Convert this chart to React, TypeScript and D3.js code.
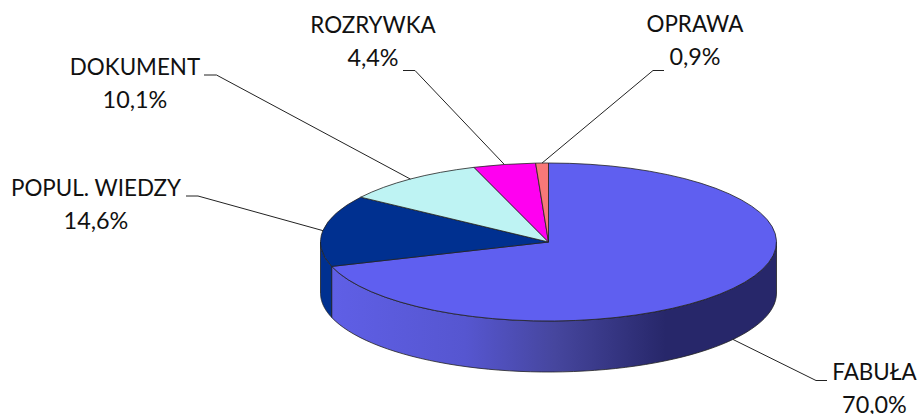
import React from 'react'
import * as d3 from 'd3'

const categories = ['FABUŁA', 'POPUL. WIEDZY', 'DOKUMENT', 'ROZRYWKA', 'OPRAWA']
const shares = [70.0, 14.6, 10.1, 4.4, 0.9]
const sliceColors = ['#5f5ff0', '#003090', '#bef3f3', '#ff00f0', '#f87878']
const percentLabels = ['70,0%', '14,6%', '10,1%', '4,4%', '0,9%']

// label placement: [text centre x, first baseline, elbow x, elbow y, stub end x]
const labelLayout = [
  [874.5, 380, 816, 380.5, 827],
  [96, 196, 198, 196, 186],
  [135, 75, 216.5, 75, 204],
  [373, 33, 415, 70.5, 403],
  [695, 32, 653, 70.5, 664],
]

const width = 918
const height = 414
const cx = 548.5
const cy = 242
const rx = 228
const ry = 79
const depth = 51

const rim = (a: number): [number, number] => [cx + rx * Math.sin(a), cy - ry * Math.cos(a)]

export default function App() {
  const pie = d3.pie<number>().sort(null).value((d) => d)
  const slices = pie(shares)
  const arc = d3.arc<d3.PieArcDatum<number>>().innerRadius(0).outerRadius(rx)
  const line = d3.line()

  // side wall only shows on the front half of the ellipse
  const wallPath = (s: d3.PieArcDatum<number>) => {
    const a0 = Math.max(s.startAngle, Math.PI / 2)
    const a1 = Math.min(s.endAngle, (3 * Math.PI) / 2)
    if (a1 <= a0) return null
    const top = d3.range(0, 61).map((i) => rim(a0 + ((a1 - a0) * i) / 60))
    const bottom = top.map(([x, y]) => [x, y + depth] as [number, number]).reverse()
    return line([...top, ...bottom]) + 'Z'
  }

  return (
    <svg
      width={width}
      height={height}
      style={{ position: 'absolute', left: 0, top: 0, display: 'block', background: '#fff' }}
      fontFamily="Lato"
      fill="#111"
    >
      <defs>
        <linearGradient id="wall0" gradientUnits="userSpaceOnUse" x1={332} x2={777} y1={0} y2={0}>
          <stop offset="0" stopColor="#5f5fe6" />
          <stop offset="0.3" stopColor="#5656d0" />
          <stop offset="0.5" stopColor="#46469e" />
          <stop offset="0.75" stopColor="#27276a" />
          <stop offset="1" stopColor="#27276a" />
        </linearGradient>
      </defs>

      {slices.map((s, i) => {
        const d = wallPath(s)
        if (!d) return null
        return <path key={i} d={d} fill={i === 0 ? 'url(#wall0)' : sliceColors[i]} stroke="#222" strokeWidth={0.8} />
      })}

      <g transform={`translate(${cx},${cy}) scale(1,${ry / rx})`}>
        {slices.map((s, i) => (
          <path
            key={i}
            d={arc(s) as string}
            fill={sliceColors[i]}
            stroke="#222"
            strokeWidth={0.8}
            vectorEffect="non-scaling-stroke"
          />
        ))}
      </g>

      {slices.map((s, i) => {
        const [tx, base, ex, ey, stub] = labelLayout[i]
        const mid = (s.startAngle + s.endAngle) / 2
        const [ax, ay0] = rim(mid)
        const ay = i === 0 ? ay0 + depth : ay0
        return (
          <g key={i}>
            <path
              d={line([[ax, ay], [ex, ey], [stub, ey]]) as string}
              fill="none"
              stroke="#222"
              strokeWidth={1}
            />
            <text x={tx} y={base} textAnchor="middle" fontSize={22.4}>{categories[i]}</text>
            <text x={tx} y={base + 33} textAnchor="middle" fontSize={23.4}>{percentLabels[i]}</text>
          </g>
        )
      })}
    </svg>
  )
}
